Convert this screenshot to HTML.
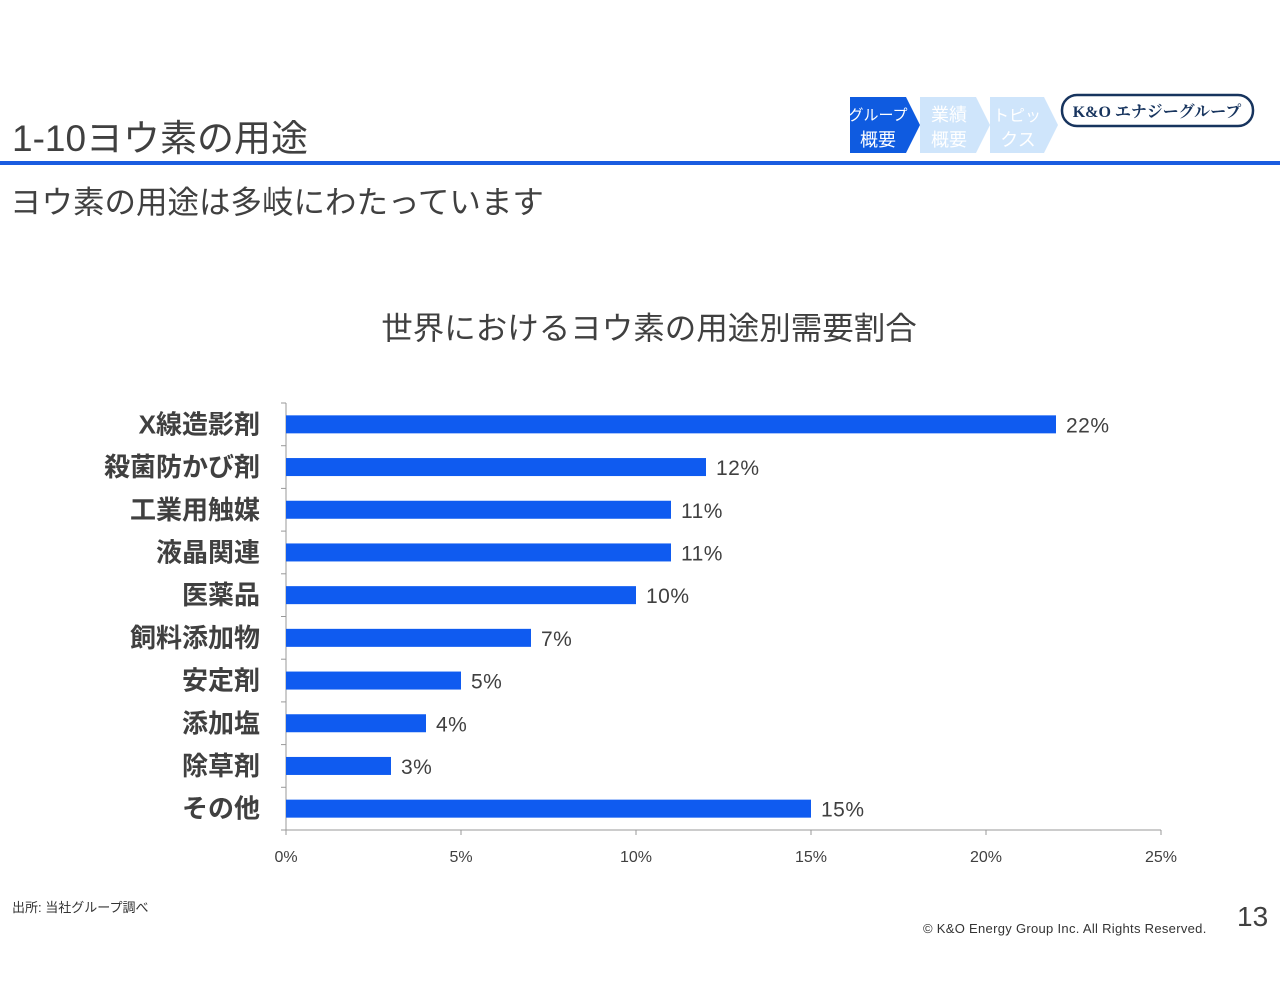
<!DOCTYPE html>
<html><head><meta charset="utf-8"><style>
body{margin:0;width:1280px;height:989px;background:#fff;position:relative;overflow:hidden;font-family:"Liberation Sans","Noto Sans CJK JP",sans-serif;color:#404040}
.abs{position:absolute}
</style></head><body>
<div class="abs" style="left:12px;top:108px;font-size:37px;color:#404040;white-space:nowrap">1-10ヨウ素の用途</div>
<div class="abs" style="left:0;top:161px;width:1280px;height:4px;background:#1a5ce0"></div>
<div class="abs" style="left:10px;top:177px;font-size:31.5px;white-space:nowrap">ヨウ素の用途は多岐にわたっています</div>
<svg class="abs" style="left:0;top:0" width="1280" height="989">
 <g><polygon points="850,97 906,97 920,125 906,153 850,153" fill="#0f5be0"/>
 <text x="878" y="120" font-size="15" fill="#fff" text-anchor="middle" font-family="Noto Sans CJK JP">グループ</text><text x="878" y="146" font-size="18" fill="#fff" text-anchor="middle" font-family="Noto Sans CJK JP">概要</text></g>
 <g><polygon points="920,97 976,97 990,125 976,153 920,153" fill="#cfe5fb"/>
 <text x="949" y="121" font-size="18" fill="#fff" text-anchor="middle" font-family="Noto Sans CJK JP">業績</text><text x="949" y="146" font-size="18" fill="#fff" text-anchor="middle" font-family="Noto Sans CJK JP">概要</text></g>
 <g><polygon points="990,97 1044,97 1058,125 1044,153 990,153" fill="#cfe5fb"/>
 <text x="1017" y="121" font-size="16" fill="#fff" text-anchor="middle" font-family="Noto Sans CJK JP">トピッ</text><text x="1018" y="146" font-size="18" fill="#fff" text-anchor="middle" font-family="Noto Sans CJK JP">クス</text></g>
 <g><rect x="1062" y="95" width="191" height="31" rx="15" fill="#fff" stroke="#17345e" stroke-width="2.5"/>
 <text x="1157" y="117" font-size="16" font-weight="bold" fill="#17345e" text-anchor="middle" font-family="Liberation Serif, Noto Serif CJK SC, serif">K&amp;O エナジーグループ</text></g>
</svg>
<div class="abs" style="left:12px;top:897px;font-size:13px;color:#333">出所: 当社グループ調べ</div>
<div class="abs" style="left:923px;top:921px;font-size:13px;color:#333;letter-spacing:0.3px">© K&amp;O Energy Group Inc. All Rights Reserved.</div>
<div class="abs" style="left:1237px;top:901px;font-size:28px;color:#404040">13</div>
<svg id="chart" class="abs" style="left:0;top:0" width="1280" height="989"></svg>
<script>
const categories=["X線造影剤","殺菌防かび剤","工業用触媒","液晶関連","医薬品","飼料添加物","安定剤","添加塩","除草剤","その他"];
const values=[22,12,11,11,10,7,5,4,3,15];
const ticks=[0,5,10,15,20,25];
const chartTitle="世界におけるヨウ素の用途別需要割合";
const svg=document.getElementById('chart');const NS='http://www.w3.org/2000/svg';
const x0=286,x1=1161,y0=403,y1=830,maxV=25;
const xs=v=>x0+(x1-x0)*v/maxV;
const band=(y1-y0)/categories.length;
const yc=i=>y0+band*(i+0.5);
function mk(t,a,txt){const e=document.createElementNS(NS,t);for(const k in a)e.setAttribute(k,a[k]);if(txt!=null)e.textContent=txt;svg.appendChild(e);return e;}
let e=mk('text',{x:649,y:339,'font-size':31.5,fill:'#404040','text-anchor':'middle','font-family':'Liberation Sans, Noto Sans CJK JP, sans-serif'},chartTitle);


e=mk('line',{x1:x0,y1:y0,x2:x0,y2:y1,stroke:'#999','stroke-width':1});


e=mk('line',{x1:x0,y1:y1,x2:x1,y2:y1,stroke:'#999','stroke-width':1});


for(let i=0;i<=categories.length;i++){mk('line',{x1:x0-5,y1:y0+band*i,x2:x0,y2:y0+band*i,stroke:'#999'});}
ticks.forEach(t=>{mk('line',{x1:xs(t),y1:y1,x2:xs(t),y2:y1+5,stroke:'#999'});
 e=mk('text',{x:xs(t),y:862,'font-size':16,fill:'#404040','text-anchor':'middle'},t+'%');
 
 });
categories.forEach((c,i)=>{
 e=mk('text',{x:260,y:yc(i)+9,'font-size':26,'font-weight':'bold',fill:'#404040','text-anchor':'end','font-family':'Liberation Sans, Noto Sans CJK JP, sans-serif'},c);
 
 
 e=mk('rect',{x:x0,y:yc(i)-9,width:xs(values[i])-x0,height:18,fill:'#0f5bf0'});
 
 
 e=mk('text',{x:xs(values[i])+10,y:yc(i)+8,'font-size':21,fill:'#404040','letter-spacing':'0.5'},values[i]+'%');
 
 
});
</script>
</body></html>
